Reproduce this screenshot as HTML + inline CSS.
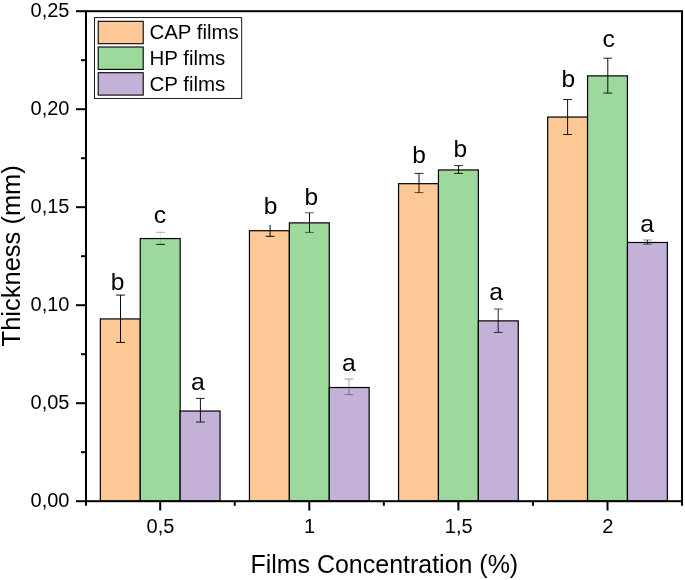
<!DOCTYPE html>
<html><head><meta charset="utf-8"><title>Thickness chart</title>
<style>
html,body{margin:0;padding:0;background:#fff;}
svg{display:block;}
text{font-family:"Liberation Sans",Arial,sans-serif;fill:#000;}
</style></head><body>
<svg width="685" height="580" viewBox="0 0 685 580">
<rect x="0" y="0" width="685" height="580" fill="#fff"/>
<rect x="100.35" y="318.92" width="39.90" height="182.28" fill="#fbc896" stroke="#000" stroke-width="1.2"/>
<rect x="140.25" y="238.56" width="39.90" height="262.64" fill="#9dd89d" stroke="#000" stroke-width="1.2"/>
<rect x="180.15" y="411.04" width="39.90" height="90.16" fill="#c3b1d8" stroke="#000" stroke-width="1.2"/>
<rect x="249.45" y="230.72" width="39.90" height="270.48" fill="#fbc896" stroke="#000" stroke-width="1.2"/>
<rect x="289.35" y="222.88" width="39.90" height="278.32" fill="#9dd89d" stroke="#000" stroke-width="1.2"/>
<rect x="329.25" y="387.52" width="39.90" height="113.68" fill="#c3b1d8" stroke="#000" stroke-width="1.2"/>
<rect x="398.55" y="183.68" width="39.90" height="317.52" fill="#fbc896" stroke="#000" stroke-width="1.2"/>
<rect x="438.45" y="169.96" width="39.90" height="331.24" fill="#9dd89d" stroke="#000" stroke-width="1.2"/>
<rect x="478.35" y="320.88" width="39.90" height="180.32" fill="#c3b1d8" stroke="#000" stroke-width="1.2"/>
<rect x="547.65" y="117.04" width="39.90" height="384.16" fill="#fbc896" stroke="#000" stroke-width="1.2"/>
<rect x="587.55" y="75.88" width="39.90" height="425.32" fill="#9dd89d" stroke="#000" stroke-width="1.2"/>
<rect x="627.45" y="242.48" width="39.90" height="258.72" fill="#c3b1d8" stroke="#000" stroke-width="1.2"/>
<g stroke="#000" stroke-width="0.95" fill="none"><path d="M120.50 295.10V342.40" stroke-opacity="1"/><path d="M116.10 295.10H124.90" stroke-opacity="1"/><path d="M116.10 342.40H124.90" stroke-opacity="1"/></g>
<g stroke="#000" stroke-width="0.95" fill="none"><path d="M160.60 232.30V244.40" stroke-opacity="0.1"/><path d="M156.20 232.30H165.00" stroke-opacity="0.35"/><path d="M156.20 244.40H165.00" stroke-opacity="0.9"/></g>
<g stroke="#000" stroke-width="0.95" fill="none"><path d="M200.40 398.40V422.00" stroke-opacity="1"/><path d="M196.00 398.40H204.80" stroke-opacity="0.9"/><path d="M196.00 422.00H204.80" stroke-opacity="0.9"/></g>
<g stroke="#000" stroke-width="0.95" fill="none"><path d="M270.10 224.90V236.30" stroke-opacity="1"/><path d="M265.70 236.30H274.50" stroke-opacity="1"/></g>
<g stroke="#000" stroke-width="0.95" fill="none"><path d="M309.50 212.80V232.40" stroke-opacity="1"/><path d="M305.10 212.80H313.90" stroke-opacity="0.7"/><path d="M305.10 232.40H313.90" stroke-opacity="0.6"/></g>
<g stroke="#000" stroke-width="0.95" fill="none"><path d="M349.00 379.00V394.60" stroke-opacity="0.35"/><path d="M344.60 379.00H353.40" stroke-opacity="0.4"/><path d="M344.60 394.60H353.40" stroke-opacity="0.4"/></g>
<g stroke="#000" stroke-width="0.95" fill="none"><path d="M419.00 173.40V192.60" stroke-opacity="1"/><path d="M414.60 173.40H423.40" stroke-opacity="0.9"/><path d="M414.60 192.60H423.40" stroke-opacity="0.7"/></g>
<g stroke="#000" stroke-width="0.95" fill="none"><path d="M458.60 165.60V173.40" stroke-opacity="1"/><path d="M454.20 165.60H463.00" stroke-opacity="0.9"/><path d="M454.20 173.40H463.00" stroke-opacity="0.9"/></g>
<g stroke="#000" stroke-width="0.95" fill="none"><path d="M498.20 309.00V332.40" stroke-opacity="0.9"/><path d="M493.80 309.00H502.60" stroke-opacity="0.7"/><path d="M493.80 332.40H502.60" stroke-opacity="0.8"/></g>
<g stroke="#000" stroke-width="0.95" fill="none"><path d="M567.60 99.50V134.50" stroke-opacity="1"/><path d="M563.20 99.50H572.00" stroke-opacity="0.9"/><path d="M563.20 134.50H572.00" stroke-opacity="0.9"/></g>
<g stroke="#000" stroke-width="0.95" fill="none"><path d="M607.80 58.20V93.10" stroke-opacity="1"/><path d="M603.40 58.20H612.20" stroke-opacity="0.9"/><path d="M603.40 93.10H612.20" stroke-opacity="0.9"/></g>
<g stroke="#000" stroke-width="0.95" fill="none"><path d="M647.40 240.00V244.20" stroke-opacity="0.8"/><path d="M643.00 240.00H651.80" stroke-opacity="0.5"/><path d="M643.00 244.20H651.80" stroke-opacity="0.6"/></g>
<rect x="86" y="11.2" width="596" height="490" fill="none" stroke="#000" stroke-width="2"/>
<line x1="76" x2="86" y1="501.20" y2="501.20" stroke="#000" stroke-width="2"/>
<line x1="81" x2="86" y1="452.20" y2="452.20" stroke="#000" stroke-width="2"/>
<text x="69.5" y="507.10" font-size="20" text-anchor="end">0,00</text>
<line x1="76" x2="86" y1="403.20" y2="403.20" stroke="#000" stroke-width="2"/>
<line x1="81" x2="86" y1="354.20" y2="354.20" stroke="#000" stroke-width="2"/>
<text x="69.5" y="409.10" font-size="20" text-anchor="end">0,05</text>
<line x1="76" x2="86" y1="305.20" y2="305.20" stroke="#000" stroke-width="2"/>
<line x1="81" x2="86" y1="256.20" y2="256.20" stroke="#000" stroke-width="2"/>
<text x="69.5" y="311.10" font-size="20" text-anchor="end">0,10</text>
<line x1="76" x2="86" y1="207.20" y2="207.20" stroke="#000" stroke-width="2"/>
<line x1="81" x2="86" y1="158.20" y2="158.20" stroke="#000" stroke-width="2"/>
<text x="69.5" y="213.10" font-size="20" text-anchor="end">0,15</text>
<line x1="76" x2="86" y1="109.20" y2="109.20" stroke="#000" stroke-width="2"/>
<line x1="81" x2="86" y1="60.20" y2="60.20" stroke="#000" stroke-width="2"/>
<text x="69.5" y="115.10" font-size="20" text-anchor="end">0,20</text>
<line x1="76" x2="86" y1="11.20" y2="11.20" stroke="#000" stroke-width="2"/>
<text x="69.5" y="17.10" font-size="20" text-anchor="end">0,25</text>
<line x1="160.20" x2="160.20" y1="501.2" y2="510.5" stroke="#000" stroke-width="2"/>
<text x="160.50" y="533.3" font-size="20" text-anchor="middle">0,5</text>
<line x1="309.30" x2="309.30" y1="501.2" y2="510.5" stroke="#000" stroke-width="2"/>
<text x="309.60" y="533.3" font-size="20" text-anchor="middle">1</text>
<line x1="458.40" x2="458.40" y1="501.2" y2="510.5" stroke="#000" stroke-width="2"/>
<text x="458.70" y="533.3" font-size="20" text-anchor="middle">1,5</text>
<line x1="607.50" x2="607.50" y1="501.2" y2="510.5" stroke="#000" stroke-width="2"/>
<text x="607.80" y="533.3" font-size="20" text-anchor="middle">2</text>
<line x1="86.00" x2="86.00" y1="501.2" y2="505.8" stroke="#000" stroke-width="2"/>
<line x1="234.75" x2="234.75" y1="501.2" y2="505.8" stroke="#000" stroke-width="2"/>
<line x1="383.85" x2="383.85" y1="501.2" y2="505.8" stroke="#000" stroke-width="2"/>
<line x1="532.95" x2="532.95" y1="501.2" y2="505.8" stroke="#000" stroke-width="2"/>
<line x1="682.00" x2="682.00" y1="501.2" y2="505.8" stroke="#000" stroke-width="2"/>
<text x="117.50" y="290.00" font-size="24.5" text-anchor="middle">b</text>
<text x="159.90" y="223.30" font-size="24.8" text-anchor="middle">c</text>
<text x="198.00" y="390.10" font-size="24.8" text-anchor="middle">a</text>
<text x="270.60" y="213.60" font-size="24.5" text-anchor="middle">b</text>
<text x="311.20" y="204.60" font-size="24.5" text-anchor="middle">b</text>
<text x="348.80" y="371.30" font-size="24.8" text-anchor="middle">a</text>
<text x="419.00" y="163.00" font-size="24.5" text-anchor="middle">b</text>
<text x="460.20" y="157.00" font-size="24.5" text-anchor="middle">b</text>
<text x="496.20" y="300.00" font-size="24.8" text-anchor="middle">a</text>
<text x="568.20" y="86.80" font-size="24.5" text-anchor="middle">b</text>
<text x="608.70" y="47.30" font-size="24.8" text-anchor="middle">c</text>
<text x="647.20" y="232.30" font-size="24.8" text-anchor="middle">a</text>
<rect x="94.5" y="17.6" width="147.2" height="80.8" fill="#fff" stroke="#000" stroke-width="0.9"/>
<rect x="98.2" y="21.30" width="45" height="22.4" fill="#fbc896" stroke="#000" stroke-width="1.1"/>
<text x="149.4" y="39.10" font-size="20" textLength="89.36" lengthAdjust="spacingAndGlyphs">CAP films</text>
<rect x="98.2" y="47.00" width="45" height="22.4" fill="#9dd89d" stroke="#000" stroke-width="1.1"/>
<text x="149.4" y="64.80" font-size="20" textLength="75.93" lengthAdjust="spacingAndGlyphs">HP films</text>
<rect x="98.2" y="72.70" width="45" height="22.4" fill="#c3b1d8" stroke="#000" stroke-width="1.1"/>
<text x="149.4" y="90.50" font-size="20" textLength="75.93" lengthAdjust="spacingAndGlyphs">CP films</text>
<text x="384.3" y="572.6" font-size="24.9" text-anchor="middle" textLength="267.8" lengthAdjust="spacingAndGlyphs">Films Concentration (%)</text>
<text transform="translate(20.3 255.8) rotate(-90)" font-size="24.9" text-anchor="middle" textLength="181.3" lengthAdjust="spacingAndGlyphs">Thickness (mm)</text>
</svg>
</body></html>
